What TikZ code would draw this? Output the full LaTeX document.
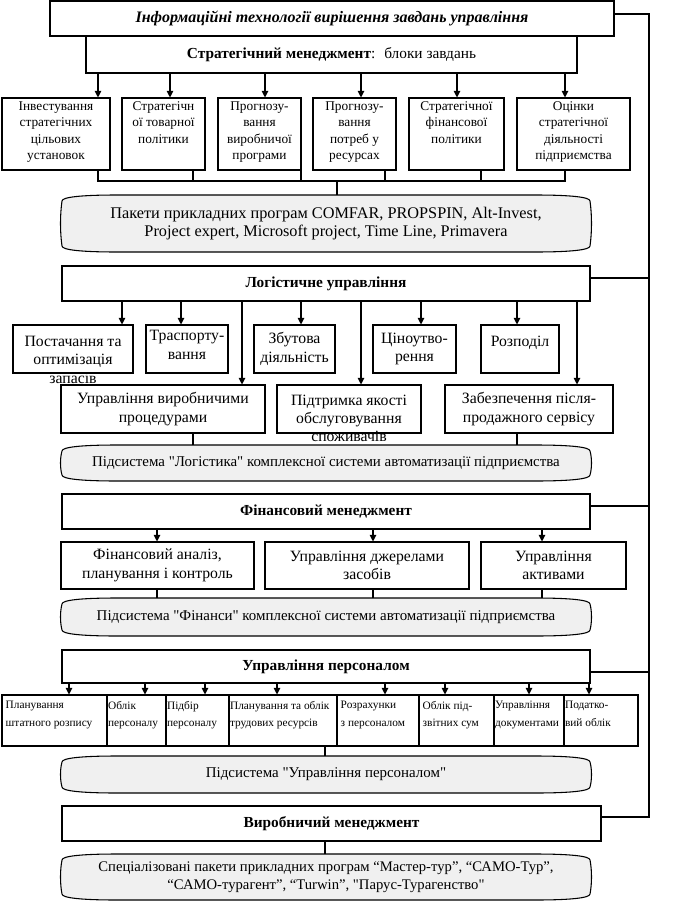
\documentclass[tikz,border=0pt]{standalone}
\usepackage{fontspec}
\setmainfont{Liberation Serif}
\newfontfamily\plainq{Liberation Serif}[Ligatures=NoCommon]
\usetikzlibrary{fit,arrows.meta}
\newcommand\dq{{\plainq\symbol{34}}}
\newcommand\scrp[4]{({#1},{#2+6}) .. controls ({#1},{#2+2}) and ({#1+20},{#2}) .. ({#1+55},{#2}) -- ({#3-55},{#2}) .. controls ({#3-20},{#2}) and ({#3},{#2+2}) .. ({#3},{#2+6}) .. controls ({#3+2},{#2+(#4-#2)*0.35}) and ({#3+2},{#4-(#4-#2)*0.35}) .. ({#3},{#4-6}) .. controls ({#3},{#4-2}) and ({#3-20},{#4}) .. ({#3-55},{#4}) -- ({#1+55},{#4}) .. controls ({#1+20},{#4}) and ({#1},{#4-2}) .. ({#1},{#4-6}) .. controls ({#1-2},{#4-(#4-#2)*0.35}) and ({#1-2},{#2+(#4-#2)*0.35}) .. cycle}
\newcommand\scrollnode[6]{%
  \filldraw[ln,fill=gray!12] \scrp{#2}{#3}{#4}{#5};
  \node[hid,fit={(#2,#3)(#4,#5)}] (#1) {};
  \node[#6] at (#1) }
\begin{document}
\begin{tikzpicture}[x=0.75pt,y=-0.75pt,
  bx/.style={draw,line width=0.8pt,inner sep=0pt},
  hid/.style={draw=none,inner sep=0pt},
  ln/.style={line width=0.8pt},
  ar/.style={line width=0.8pt,-{Triangle[length=5pt,width=5pt]}},
  ttl/.style={font=\fontsize{12}{14}\selectfont\bfseries\itshape,inner sep=0pt},
  hd/.style={font=\fontsize{11.5}{14}\selectfont\bfseries,inner sep=0pt},
  tk/.style={font=\fontsize{10}{12.2}\selectfont,align=center,inner sep=0pt},
  md/.style={font=\fontsize{11.8}{13.8}\selectfont,align=center,inner sep=0pt},
  pk/.style={font=\fontsize{12.2}{14}\selectfont,align=center,inner sep=0pt},
  sb/.style={font=\fontsize{11.2}{13}\selectfont,align=center,inner sep=0pt},
  ps/.style={font=\fontsize{8.5}{13}\selectfont,align=left,inner sep=0pt,anchor=north west},
  sp/.style={font=\fontsize{11}{13.2}\selectfont,align=center,inner sep=0pt}]
\useasboundingbox (0,0) rectangle (674,914);

% top
\node[bx,fit={(50,1)(614,36)}] (top) {};
\node[ttl] at (top) {Інформаційні технології вирішення завдань управління};
\node[bx,fit={(86,36)(577,73)}] (strat) {};
\node[hd] at (strat) {Стратегічний менеджмент\textmd{:~ блоки завдань}};

% task boxes
\node[bx,fit={(2,98)(110,170)}] (t1) {};
\node[bx,fit={(122,98)(205,170)}] (t2) {};
\node[bx,fit={(218,98)(301,170)}] (t3) {};
\node[bx,fit={(313,98)(396,170)}] (t4) {};
\node[bx,fit={(409,98)(504,170)}] (t5) {};
\node[bx,fit={(517,98)(630,170)}] (t6) {};
\node[tk,anchor=north] at ([yshift=-3pt]t1.north) {Інвестування\\стратегічних\\цільових\\установок};
\node[tk,anchor=north] at ([yshift=-3pt]t2.north) {Стратегічн\\ої товарної\\політики};
\node[tk,anchor=north] at ([yshift=-3pt]t3.north) {Прогнозу-\\вання\\виробничої\\програми};
\node[tk,anchor=north] at ([yshift=-3pt]t4.north) {Прогнозу-\\вання\\потреб у\\ресурсах};
\node[tk,anchor=north] at ([yshift=-3pt]t5.north) {Стратегічної\\фінансової\\політики};
\node[tk,anchor=north] at ([yshift=-3pt]t6.north) {Оцінки\\стратегічної\\діяльності\\підприємства};
\draw[ar] (strat.south -| 98,0) -- (t1.north -| 98,0);
\draw[ar] (strat.south -| 170,0) -- (t2.north -| 170,0);
\draw[ar] (strat.south -| 265,0) -- (t3.north -| 265,0);
\draw[ar] (strat.south -| 361,0) -- (t4.north -| 361,0);
\draw[ar] (strat.south -| 457,0) -- (t5.north -| 457,0);
\draw[ar] (strat.south -| 565,0) -- (t6.north -| 565,0);

% package
\scrollnode{pkg}{62}{195}{590}{252}{pk}{Пакети прикладних програм COMFAR, PROPSPIN, Alt-Invest,\\Project expert, Microsoft project, Time Line, Primavera};
\coordinate (bus) at (337,181);
\draw[ln] (t1.south -| 98,0) -- (98,181) -- (565,181) -- (t6.south -| 565,0);
\draw[ln] (t2.south -| 193,0) -- (193,181);
\draw[ln] (t3.south -| 301,0) -- (301,181);
\draw[ln] (t4.south -| 385,0) -- (385,181);
\draw[ln] (t5.south -| 481,0) -- (481,181);
\draw[ln] (bus) -- (pkg.north -| bus);

% logistics
\node[bx,fit={(62,266)(590,301)}] (log) {};
\node[hd] at (log) {Логістичне управління};
\node[bx,fit={(13,325)(133,373)}] (l1) {};
\node[bx,fit={(146,325)(228,373)}] (l2) {};
\node[bx,fit={(254,325)(335,373)}] (l3) {};
\node[bx,fit={(373,325)(456,373)}] (l4) {};
\node[bx,fit={(481,325)(559,373)}] (l5) {};
\node[bx,fit={(61,385)(265,433)}] (m1) {};
\node[bx,fit={(277,385)(421,433)}] (m2) {};
\node[bx,fit={(445,385)(613,433)}] (m3) {};
\node[md] at ([yshift=-8pt]l1.center) {Постачання та\\оптимізація\\запасів};
\node[md] at ([yshift=3pt]l2.center) {Траспорту-\\вання};
\node[md] at (l3) {Збутова\\діяльність};
\node[md] at (l4) {Ціноутво-\\рення};
\node[md] at ([yshift=5pt]l5.center) {Розподіл};
\node[md] at (m1) {Управління виробничими\\процедурами};
\node[md] at ([yshift=-7pt]m2.center) {Підтримка якості\\обслуговування\\споживачів};
\node[md] at (m3) {Забезпечення після-\\продажного сервісу};
\draw[ar] (log.south -| 122,0) -- (l1.north -| 122,0);
\draw[ar] (log.south -| 181,0) -- (l2.north -| 181,0);
\draw[ar] (log.south -| 242,0) -- (m1.north -| 242,0);
\draw[ar] (log.south -| 301,0) -- (l3.north -| 301,0);
\draw[ar] (log.south -| 361,0) -- (m2.north -| 361,0);
\draw[ar] (log.south -| 421,0) -- (l4.north -| 421,0);
\draw[ar] (log.south -| 517,0) -- (l5.north -| 517,0);
\draw[ar] (log.south -| 577,0) -- (m3.north -| 577,0);

\scrollnode{lsub}{62}{445}{590}{481}{sb}{Підсистема \dq Логістика\dq{} комплексної системи автоматизації підприємства};
\draw[ln] (m1.south -| 193,0) -- (lsub.north -| 193,0);
\draw[ln] (m3.south -| 517,0) -- (lsub.north -| 517,0);

% finance
\node[bx,fit={(62,494)(590,529)}] (fin) {};
\node[hd] at (fin) {Фінансовий менеджмент};
\node[bx,fit={(61,542)(254,589)}] (f1) {};
\node[bx,fit={(265,542)(469,589)}] (f2) {};
\node[bx,fit={(481,542)(626,589)}] (f3) {};
\node[md] at (f1) {Фінансовий аналіз,\\планування і контроль};
\node[md] at (f2) {Управління джерелами\\засобів};
\node[md] at (f3) {Управління\\активами};
\draw[ar] (fin.south -| 157,0) -- (f1.north -| 157,0);
\draw[ar] (fin.south -| 373,0) -- (f2.north -| 373,0);
\draw[ar] (fin.south -| 542,0) -- (f3.north -| 542,0);
\scrollnode{fsub}{62}{598}{590}{636}{sb}{Підсистема \dq Фінанси\dq{} комплексної системи автоматизації підприємства};
\draw[ln] (f1.south -| 157,0) -- (fsub.north -| 157,0);
\draw[ln] (f2.south -| 373,0) -- (fsub.north -| 373,0);
\draw[ln] (f3.south -| 542,0) -- (fsub.north -| 542,0);

% personnel
\node[bx,fit={(62,650)(590,683)}] (per) {};
\node[hd] at (per) {Управління персоналом};
\node[bx,fit={(2,695)(107,746)}] (p1) {};
\node[bx,fit={(107,695)(166,746)}] (p2) {};
\node[bx,fit={(166,695)(229,746)}] (p3) {};
\node[bx,fit={(229,695)(337,746)}] (p4) {};
\node[bx,fit={(337,695)(419,746)}] (p5) {};
\node[bx,fit={(419,695)(494,746)}] (p6) {};
\node[bx,fit={(494,695)(564,746)}] (p7) {};
\node[bx,fit={(564,695)(638,746)}] (p8) {};
\node[ps] at ([xshift=3pt,yshift=-5pt]p1.north west) {Планування\\штатного розпису};
\node[ps] at ([xshift=1pt,yshift=-5pt]p2.north west) {Облік\\персоналу};
\node[ps] at ([xshift=1pt,yshift=-5pt]p3.north west) {Підбір\\персоналу};
\node[ps] at ([xshift=1pt,yshift=-5pt]p4.north west) {Планування та облік\\трудових ресурсів};
\node[ps] at ([xshift=3pt,yshift=-5pt]p5.north west) {Розрахунки\\з персоналом};
\node[ps] at ([xshift=3pt,yshift=-5pt]p6.north west) {Облік під-\\звітних сум};
\node[ps] at ([xshift=1pt,yshift=-5pt]p7.north west) {Управління\\документами};
\node[ps] at ([xshift=1pt,yshift=-5pt]p8.north west) {Податко-\\вий облік};
\draw[ar] (per.south -| 69,0) -- (p1.north -| 69,0);
\draw[ar] (per.south -| 145,0) -- (p2.north -| 145,0);
\draw[ar] (per.south -| 205,0) -- (p3.north -| 205,0);
\draw[ar] (per.south -| 277,0) -- (p4.north -| 277,0);
\draw[ar] (per.south -| 385,0) -- (p5.north -| 385,0);
\draw[ar] (per.south -| 445,0) -- (p6.north -| 445,0);
\draw[ar] (per.south -| 529,0) -- (p7.north -| 529,0);
\draw[ar] (per.south -| 589,0) -- (p8.north -| 589,0);
\scrollnode{psub}{62}{756}{590}{793}{sb}{Підсистема \dq Управління персоналом\dq};
\draw[ln] (p4.south -| 325,0) -- (psub.north -| 325,0);

% production
\node[bx,fit={(62,806)(601,841)}] (prod) {};
\node[hd] at (prod) {Виробничий менеджмент};
\scrollnode{spec}{62}{854}{590}{900}{sp}{Спеціалізовані пакети прикладних програм “Мастер-тур”, “САМО-Тур”,\\“САМО-турагент”, “Turwin”, \dq Парус-Турагенство\dq};
\draw[ln] (prod.south -| 325,0) -- (spec.north -| 325,0);

% feedback line
\coordinate (rt) at (649,14);
\coordinate (rb) at (649,817);
\draw[ln] (top.east |- rt) -- (rt) -- (rb) -- (prod.east |- rb);
\draw[ln] (log.east |- 0,278) -- (649,278);
\draw[ln] (fin.east |- 0,506) -- (649,506);
\draw[ln] (per.east |- 0,672) -- (649,672);
\end{tikzpicture}
\end{document}
